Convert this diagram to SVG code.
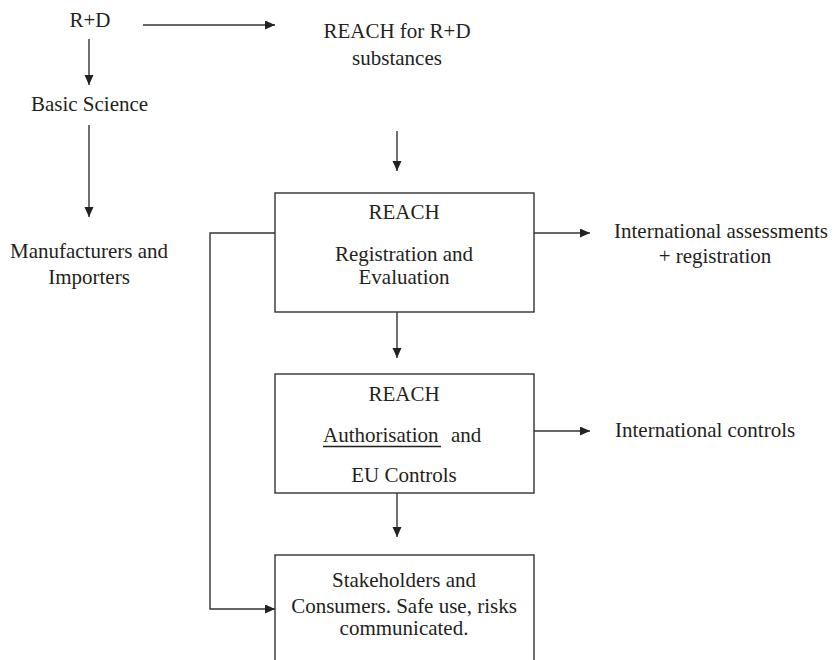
<svg xmlns="http://www.w3.org/2000/svg" width="835" height="660" viewBox="0 0 835 660">
<defs>
<style>
text{font-family:'Liberation Serif','Times New Roman','DejaVu Serif',serif;font-size:21px;fill:#231f20}
.c{text-anchor:middle}
.box{fill:#fff;stroke:#333;stroke-width:1.4}
.ln{fill:none;stroke:#333;stroke-width:1.4}
</style>
<marker id="ah" markerUnits="userSpaceOnUse" markerWidth="11" markerHeight="10" refX="10" refY="4.5" orient="auto">
<path d="M0,0 L10,4.5 L0,9 z" fill="#222"/>
</marker>
</defs>
<rect width="835" height="660" fill="#fff"/>
<g id="connectors">
<line class="ln" x1="143" y1="25" x2="275" y2="25" marker-end="url(#ah)"/>
<line class="ln" x1="89" y1="39" x2="89" y2="85" marker-end="url(#ah)"/>
<line class="ln" x1="89" y1="125" x2="89" y2="217" marker-end="url(#ah)"/>
<line class="ln" x1="397" y1="131" x2="397" y2="171" marker-end="url(#ah)"/>
<line class="ln" x1="397" y1="312" x2="397" y2="358" marker-end="url(#ah)"/>
<line class="ln" x1="397" y1="493" x2="397" y2="537" marker-end="url(#ah)"/>
<line class="ln" x1="534" y1="233" x2="590" y2="233" marker-end="url(#ah)"/>
<line class="ln" x1="534" y1="431" x2="590" y2="431" marker-end="url(#ah)"/>
<polyline class="ln" points="275,233 210,233 210,609 275,609" marker-end="url(#ah)"/>
</g>
<g font-family="Liberation Serif, DejaVu Serif, serif">
<g id="rd"><text class="c" x="90" y="27" font-family="Liberation Serif, serif">R+D</text></g>
<g id="basic-science"><text class="c" x="89.5" y="111" font-family="Liberation Serif, serif">Basic Science</text></g>
<g id="manufacturers"><text class="c" x="89" y="258" font-family="Liberation Serif, serif">Manufacturers and</text><text class="c" x="89" y="284" font-family="Liberation Serif, serif">Importers</text></g>
<g id="reach-rd"><text class="c" x="397" y="38" font-family="Liberation Serif, serif">REACH for R+D</text><text class="c" x="397" y="65" font-family="Liberation Serif, serif">substances</text></g>
<g id="reach-registration">
<rect class="box" x="275" y="193" width="259" height="119"/>
<text class="c" x="404" y="219" font-family="Liberation Serif, serif">REACH</text>
<text class="c" x="404" y="261" font-family="Liberation Serif, serif">Registration and</text>
<text class="c" x="404" y="284" font-family="Liberation Serif, serif">Evaluation</text>
</g>
<g id="reach-authorisation">
<rect class="box" x="275" y="374" width="259" height="119"/>
<text class="c" x="404" y="401" font-family="Liberation Serif, serif">REACH</text>
<text x="323" y="442" font-family="Liberation Serif, serif">Authorisation</text>
<line x1="323" y1="446.5" x2="441" y2="446.5" stroke="#231f20" stroke-width="1.5"/>
<text x="451" y="442" font-family="Liberation Serif, serif">and</text>
<text class="c" x="404" y="482" font-family="Liberation Serif, serif">EU Controls</text>
</g>
<g id="stakeholders">
<rect class="box" x="275" y="555" width="259" height="110"/>
<text class="c" x="404" y="587" font-family="Liberation Serif, serif">Stakeholders and</text>
<text class="c" x="404" y="613" font-family="Liberation Serif, serif">Consumers. Safe use, risks</text>
<text class="c" x="404" y="635" font-family="Liberation Serif, serif">communicated.</text>
</g>
<g id="intl-assessments"><text x="614" y="238" font-family="Liberation Serif, serif">International assessments</text><text class="c" x="715" y="263" font-family="Liberation Serif, serif">+ registration</text></g>
<g id="intl-controls"><text x="615" y="437" font-family="Liberation Serif, serif">International controls</text></g>
</g>
</svg>
